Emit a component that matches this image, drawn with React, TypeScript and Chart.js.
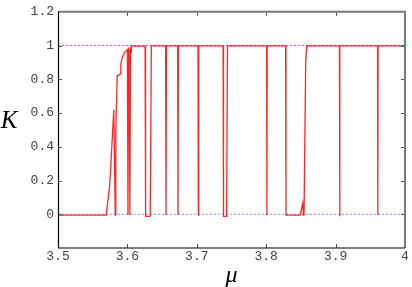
import { useEffect, useRef } from 'react';
import { Chart, registerables } from 'chart.js';
Chart.register(...registerables);

const muValues = [
  3.5, 3.5694, 3.574, 3.5756, 3.5804, 3.5825, 3.5833, 3.5853, 3.5896, 3.5905, 3.5925, 3.595, 3.5958, 3.599,
  3.6, 3.6008, 3.6016, 3.6026, 3.6035, 3.6045, 3.6052, 3.6058, 3.607,
  3.6255, 3.6262, 3.632, 3.6329, 3.6345,
  3.6551, 3.6556, 3.6563,
  3.6724, 3.6729, 3.6735,
  3.7017, 3.7022, 3.7027,
  3.7379, 3.7385, 3.743, 3.7442,
  3.8006, 3.801, 3.8014,
  3.828, 3.8285, 3.849, 3.8526, 3.8535, 3.8545, 3.8569, 3.8584,
  3.9055, 3.9059, 3.9063,
  3.9604, 3.9608, 3.9612,
  4.0,
];
const kValues = [
  -0.005, -0.005, 0.15, 0.25, 0.62, -0.005, 0.5, 0.82, 0.83, 0.89, 0.93, 0.95, 0.96, 0.97,
  0.975, -0.005, 0.98, 0.97, -0.005, 0.99, 0.96, 1.0, 0.997,
  0.997, -0.012, -0.012, -0.008, 0.998,
  0.998, -0.005, 0.998,
  0.998, -0.005, 0.998,
  0.998, -0.005, 0.998,
  0.998, -0.012, -0.012, 0.998,
  0.998, -0.005, 0.998,
  0.998, -0.005, -0.005, 0.065, -0.005, -0.005, 0.9, 0.998,
  0.998, -0.012, 0.998,
  0.998, -0.005, 0.998,
  0.998,
];
const xTickValues = [3.5, 3.6, 3.7, 3.8, 3.9, 4.0];
const xTickLabels = ['3.5', '3.6', '3.7', '3.8', '3.9', '4'];
const yTickValues = [-0.2, 0, 0.2, 0.4, 0.6, 0.8, 1.0, 1.2];
const yTickLabels = ['', '0', '0.2', '0.4', '0.6', '0.8', '1', '1.2'];
const refOne = [1, 1];
const refZero = [0, 0];
const refX = [3.5, 4.0];

const framePlugin = {
  id: 'frame',
  afterDraw(chart: any) {
    const { ctx, chartArea, scales } = chart;
    const { left, right, top, bottom } = chartArea;
    const x = scales.x;
    const y = scales.y;
    ctx.save();
    ctx.strokeStyle = '#555';
    ctx.lineWidth = 1;
    ctx.beginPath();
    xTickValues.slice(1, -1).forEach((v) => {
      const px = Math.round(x.getPixelForValue(v)) + 0.5;
      ctx.moveTo(px, bottom);
      ctx.lineTo(px, bottom - 4);
      ctx.moveTo(px, top);
      ctx.lineTo(px, top + 4);
    });
    yTickValues.slice(1, -1).forEach((v) => {
      const py = Math.round(y.getPixelForValue(v)) + 0.5;
      ctx.moveTo(left, py);
      ctx.lineTo(left + 4, py);
      ctx.moveTo(right, py);
      ctx.lineTo(right - 4, py);
    });
    ctx.stroke();
    ctx.strokeStyle = '#7a7a7a';
    ctx.lineWidth = 2;
    ctx.beginPath();
    ctx.moveTo(left, top);
    ctx.lineTo(right, top);
    ctx.lineTo(right, bottom);
    ctx.stroke();
    ctx.strokeStyle = '#000';
    ctx.lineWidth = 1.2;
    ctx.beginPath();
    ctx.moveTo(left + 0.5, top);
    ctx.lineTo(left + 0.5, bottom);
    ctx.lineTo(right, bottom);
    ctx.stroke();
    ctx.fillStyle = '#000';
    ctx.font = 'italic 25px "Liberation Serif", serif';
    ctx.textAlign = 'center';
    ctx.textBaseline = 'alphabetic';
    ctx.fillText('K', 9, 128);
    ctx.font = 'italic 24px "Liberation Serif", serif';
    ctx.fillText('μ', (left + right) / 2, 282);
    ctx.restore();
  },
};

export default function App() {
  const ref = useRef<HTMLCanvasElement | null>(null);
  useEffect(() => {
    if (!ref.current) return;
    const tickFont = { family: '"Liberation Mono", monospace', size: 13 };
    const chart = new Chart(ref.current, {
      type: 'scatter',
      data: {
        datasets: [
          {
            data: muValues.map((m, i) => ({ x: m, y: kValues[i] })),
            showLine: true,
            borderColor: 'rgba(255,0,0,0.85)',
            borderWidth: 1.3,
            pointRadius: 0,
            tension: 0,
          },
          {
            data: refX.map((m, i) => ({ x: m, y: refOne[i] })),
            showLine: true,
            borderColor: '#ff40ff',
            borderWidth: 1,
            borderDash: [2, 2],
            pointRadius: 0,
          },
          {
            data: refX.map((m, i) => ({ x: m, y: refZero[i] })),
            showLine: true,
            borderColor: '#8c8cff',
            borderWidth: 1,
            borderDash: [2, 2],
            pointRadius: 0,
          },
        ],
      },
      options: {
        animation: false,
        responsive: false,
        devicePixelRatio: 1,
        layout: { padding: { top: 6, right: 7, left: 0, bottom: 0 } },
        plugins: { legend: { display: false }, tooltip: { enabled: false } },
        scales: {
          x: {
            type: 'linear',
            min: 3.5,
            max: 4.0,
            afterBuildTicks: (s: any) => {
              s.ticks = xTickValues.map((v) => ({ value: v }));
            },
            afterFit: (s: any) => {
              s.height = 39;
            },
            ticks: {
              callback: (_v: any, i: number) => xTickLabels[i],
              font: tickFont,
              color: '#444',
              padding: 1,
              maxRotation: 0,
              autoSkip: false,
            },
            grid: { display: false, drawTicks: false },
            border: { display: false },
          },
          y: {
            type: 'linear',
            min: -0.2,
            max: 1.2,
            afterBuildTicks: (s: any) => {
              s.ticks = yTickValues.map((v) => ({ value: v }));
            },
            afterFit: (s: any) => {
              s.width = 58;
            },
            ticks: {
              callback: (_v: any, i: number) => yTickLabels[i],
              font: tickFont,
              color: '#444',
              padding: 4,
              autoSkip: false,
            },
            grid: { display: false, drawTicks: false },
            border: { display: false },
          },
        },
      },
      plugins: [framePlugin],
    } as any);
    return () => chart.destroy();
  }, []);
  return (
    <div style={{ position: 'fixed', left: 0, top: 0, width: 412, height: 287, background: '#fff' }}>
      <canvas ref={ref} width={412} height={287} />
    </div>
  );
}
